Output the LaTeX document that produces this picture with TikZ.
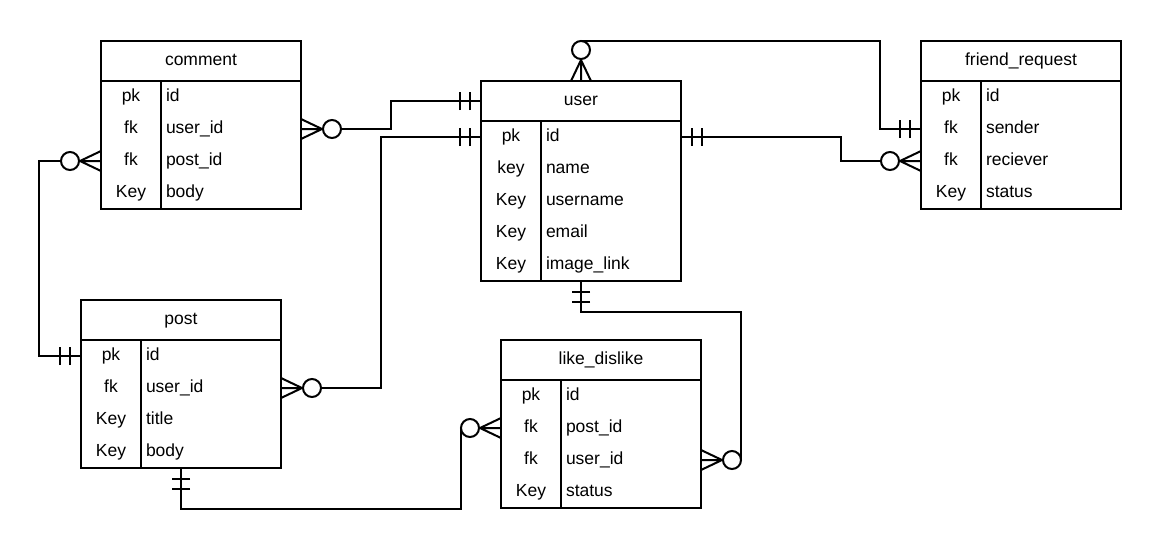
\documentclass[tikz,border=0pt]{standalone}
\usepackage{fontspec}
\setmainfont{Liberation Sans}
\usetikzlibrary{fit,calc}
\tikzset{
  hdr/.style={minimum width=200pt, minimum height=40pt, inner sep=0pt, outer sep=0pt, text height=12pt, text depth=4pt},
  keycell/.style={minimum width=60pt, minimum height=32pt, inner sep=0pt, outer sep=0pt, text height=12pt, text depth=4pt},
  valcell/.style={minimum height=32pt, text width=130pt, align=left, inner xsep=5pt, inner ysep=0pt, outer sep=0pt, text height=12pt, text depth=4pt},
  frame/.style={draw, inner sep=0pt, outer sep=0pt},
  zmany/.pic={\draw (0,-10) -- (21,0) -- (0,10) (0,0) -- (21,0);
              \draw[fill=white] (31,0) circle[radius=9pt];},
  onebar/.pic={\draw (0,0) -- (24,0) (11,-9) -- (11,9) (21,-9) -- (21,9);}
}
\newcommand\ertable[5]{%
  \node[hdr, anchor=north west] (#1) at (#2,#3) {#4};
  \foreach \k/\v [count=\i] in {#5} {
    \node[keycell, anchor=north west] (#1-k\i) at ({#2},{#3+40+32*(\i-1)}) {\k};
    \node[valcell, anchor=north west] (#1-v\i) at ({#2+60},{#3+40+32*(\i-1)}) {\v};
  }%
}
\begin{document}
\begin{tikzpicture}[x=1pt, y=-1pt, line width=2pt, font=\fontsize{17.5}{21}\selectfont]
\fill[white] (0,0) rectangle (1161,550);
\useasboundingbox (0,0) rectangle (1161,550);

\ertable{comment}{101}{41}{comment}{pk/id, fk/user\_id, fk/post\_id, Key/body}
\ertable{user}{481}{81}{user}{pk/id, key/name, Key/username, Key/email, Key/image\_link}
\ertable{friendreq}{921}{41}{friend\_request}{pk/id, fk/sender, fk/reciever, Key/status}
\ertable{post}{81}{300}{post}{pk/id, fk/user\_id, Key/title, Key/body}
\ertable{likedislike}{501}{340}{like\_dislike}{pk/id, fk/post\_id, fk/user\_id, Key/status}

% frames
\node[frame, fit=(comment)(comment-v4)] (comment-box) {};
\node[frame, fit=(user)(user-v5)] (user-box) {};
\node[frame, fit=(friendreq)(friendreq-v4)] (friendreq-box) {};
\node[frame, fit=(post)(post-v4)] (post-box) {};
\node[frame, fit=(likedislike)(likedislike-v4)] (likedislike-box) {};
\draw (comment.south west) -- (comment.south east) (comment-k1.north east) -- (comment-k4.south east);
\draw (user.south west) -- (user.south east) (user-k1.north east) -- (user-k5.south east);
\draw (friendreq.south west) -- (friendreq.south east) (friendreq-k1.north east) -- (friendreq-k4.south east);
\draw (post.south west) -- (post.south east) (post-k1.north east) -- (post-k4.south east);
\draw (likedislike.south west) -- (likedislike.south east) (likedislike-k1.north east) -- (likedislike-k4.south east);

% connectors
\draw ($(comment-v2.east)+(40,0)$) -- ++(50,0) |- (user.west);
\draw ($(post-v2.east)+(40,0)$) -- ++(60,0) |- (user-k1.west);
\draw ($(comment-k3.west)+(-40,0)$) -- ++(-22,0) |- (post-k1.west);
\draw ($(user.north)+(0,-40)$) -- ++(299,0) |- (friendreq-k2.west);
\draw (user-v1.east) -- ++(160,0) |- ($(friendreq-k3.west)+(-40,0)$);
\draw (user-box.south) -- ++(0,31) -| ($(likedislike-v3.east)+(40,0)$);
\draw (post-box.south) -- ++(0,41) -| ($(likedislike-k2.west)+(-40,0)$);

% ends
\pic[rotate=180] at (user.west) {onebar};
\pic[rotate=180] at (user-k1.west) {onebar};
\pic at (comment-v2.east) {zmany};
\pic at (post-v2.east) {zmany};
\pic[rotate=180] at (comment-k3.west) {zmany};
\pic[rotate=180] at (post-k1.west) {onebar};
\pic[rotate=90] at (user.north) {zmany};
\pic[rotate=180] at (friendreq-k2.west) {onebar};
\pic at (user-v1.east) {onebar};
\pic[rotate=180] at (friendreq-k3.west) {zmany};
\pic[rotate=-90] at (user-box.south) {onebar};
\pic at (likedislike-v3.east) {zmany};
\pic[rotate=-90] at (post-box.south) {onebar};
\pic[rotate=180] at (likedislike-k2.west) {zmany};
\end{tikzpicture}
\end{document}
